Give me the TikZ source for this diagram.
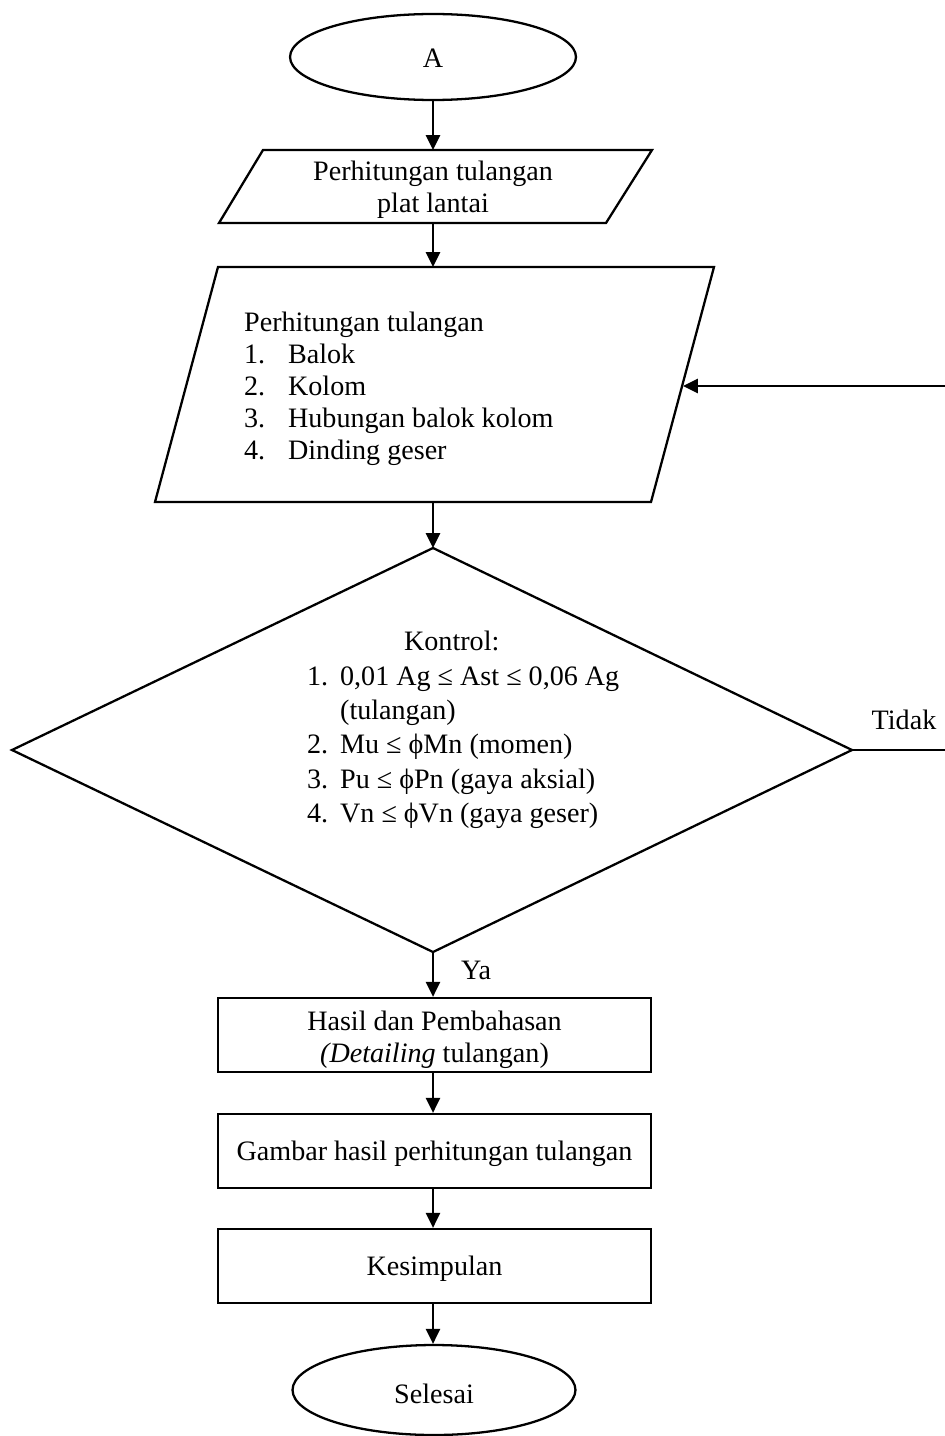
\documentclass[tikz,border=0pt]{standalone}
\usepackage{fontspec}
\setmainfont{Liberation Serif}
\usetikzlibrary{shapes.geometric,arrows.meta}
\begin{document}
\begin{tikzpicture}[x=0.02cm,y=-0.02cm,line width=1.3pt,
  arr/.style={-{Triangle[length=8.5pt,width=8pt]}},
  txt/.style={font=\fontsize{16}{18.2}\selectfont,inner sep=0pt},
  term/.style={draw,ellipse,minimum width=5.72cm,minimum height=1.72cm,inner sep=0pt},
  procbox/.style={draw,rectangle,minimum width=8.66cm,minimum height=1.48cm,inner sep=0pt}]
\useasboundingbox (0,0) rectangle (945,1436);

% start terminal
\node[term] (A) at (433,57) {};
\node[txt] (At) at (433,58) {A};

% parallelogram 1
\coordinate (p1a) at (263,150);
\coordinate (p1b) at (652,150);
\coordinate (p1c) at (606,223);
\coordinate (p1d) at (219,223);
\coordinate (p1top) at (433,150);
\coordinate (p1bot) at (433,223);
\draw (p1a) -- (p1b) -- (p1c) -- (p1d) -- cycle;
\node[txt,align=center] (t1) at (433,190) {Perhitungan tulangan\\plat lantai};

% parallelogram 2
\coordinate (p2a) at (218,267);
\coordinate (p2b) at (714,267);
\coordinate (p2c) at (651,502);
\coordinate (p2d) at (155,502);
\coordinate (p2top) at (433,267);
\coordinate (p2bot) at (433,502);
\coordinate (p2r) at (683,386);
\draw (p2a) -- (p2b) -- (p2c) -- (p2d) -- cycle;
\node[txt,align=left,anchor=west] (t2) at (243,389) {Perhitungan tulangan\\
\makebox[0.88cm][l]{1.}Balok\\
\makebox[0.88cm][l]{2.}Kolom\\
\makebox[0.88cm][l]{3.}Hubungan balok kolom\\
\makebox[0.88cm][l]{4.}Dinding geser};

% decision diamond
\coordinate (Dt) at (433,548);
\coordinate (Dl) at (12,750);
\coordinate (Dr) at (852,750);
\coordinate (Db) at (433,952);
\draw (Dt) -- (Dr) -- (Db) -- (Dl) -- cycle;
\node[txt,align=left,anchor=west,font=\fontsize{16}{19.6}\selectfont] (t3) at (306,730) {\hspace*{1.94cm}Kontrol:\\
\makebox[0.66cm][l]{1.}0,01 Ag ≤ Ast ≤ 0,06 Ag\\
\hspace*{0.66cm}(tulangan)\\
\makebox[0.66cm][l]{2.}Mu ≤ ϕMn (momen)\\
\makebox[0.66cm][l]{3.}Pu ≤ ϕPn (gaya aksial)\\
\makebox[0.66cm][l]{4.}Vn ≤ ϕVn (gaya geser)};

\node[txt] (ya) at (476,970) {Ya};
\node[txt] (tidak) at (904,720) {Tidak};

% process boxes
\node[procbox] (R1) at (434.5,1035) {};
\node[txt,align=center] (R1t) at (434.5,1040) {Hasil dan Pembahasan\\\textit{(Detailing} tulangan)};
\node[procbox] (R2) at (434.5,1151) {};
\node[txt] (R2t) at (434.5,1154) {Gambar hasil perhitungan tulangan};
\node[procbox] (R3) at (434.5,1266) {};
\node[txt] (R3t) at (434.5,1269) {Kesimpulan};

% end terminal
\node[term,minimum width=5.66cm,minimum height=1.80cm] (S) at (434,1390) {};
\node[txt] (St) at (434,1394) {Selesai};

% connectors
\draw[arr] (A.south) -- (p1top);
\draw[arr] (p1bot) -- (p2top);
\draw[arr] (p2bot) -- (Dt);
\draw[arr] (Db) -- (Db |- R1.north);
\draw[arr] (R1.south -| Db) -- (Db |- R2.north);
\draw[arr] (R2.south -| Db) -- (Db |- R3.north);
\draw[arr] (R3.south -| Db) -- (Db |- S.north);
\coordinate (fb1) at (953,750);
\coordinate (fb2) at (953,386);
\draw[arr] (Dr) -- (fb1) -- (fb2) -- (p2r);
\end{tikzpicture}
\end{document}
